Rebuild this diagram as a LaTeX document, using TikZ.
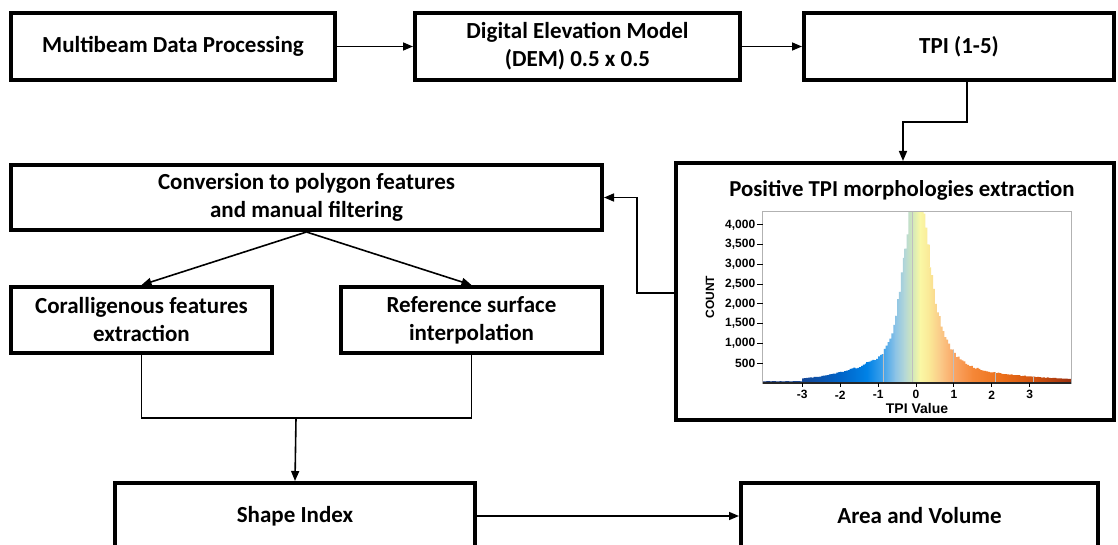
\documentclass[tikz,border=0pt]{standalone}
\usepackage{fontspec}
\setmainfont{Carlito}
\newfontfamily\axfont{Liberation Sans}
\usetikzlibrary{arrows.meta,calc}
\definecolor{cA}{RGB}{25,55,120}
\definecolor{cB}{RGB}{20,70,150}
\definecolor{cC}{RGB}{0,100,200}
\definecolor{cD}{RGB}{0,130,230}
\definecolor{cE}{RGB}{60,160,235}
\definecolor{cF}{RGB}{140,195,230}
\definecolor{cG}{RGB}{180,215,215}
\definecolor{cH}{RGB}{210,232,185}
\definecolor{cI}{RGB}{250,248,165}
\definecolor{cJ}{RGB}{250,232,150}
\definecolor{cK}{RGB}{250,200,135}
\definecolor{cL}{RGB}{250,165,100}
\definecolor{cM}{RGB}{245,135,55}
\definecolor{cN}{RGB}{235,110,25}
\definecolor{cO}{RGB}{205,80,15}
\definecolor{cP}{RGB}{150,45,15}
\begin{document}
\begin{tikzpicture}[x=0.5pt,y=-0.5pt,
  declare function={
    hl(\hd)=3480*exp(-min(\hd*\hd/0.19,9))+1520*exp(-min(\hd/1.16,9));
    hr(\hd)=5320*exp(-min(\hd/0.33,9))+620*exp(-min(\hd/2.2,9));
    hh(\hv)=(\hv<-3.0)?45:((\hv<0.0)?hl(abs(0.0-\hv)):((\hv<0.12)?5000:hr(abs(\hv-0.12))));
  },
  box/.style={draw, line width=2pt, rectangle, inner sep=0pt, align=center,
    font=\fontsize{11.5}{14}\selectfont\bfseries},
  arr/.style={line width=0.8pt, -{Triangle[length=5pt,width=4pt]}},
  ln/.style={line width=0.8pt},
  tick/.style={font=\axfont\fontsize{6}{7}\selectfont\bfseries, inner sep=0.6pt}
]
\useasboundingbox (0,0) rectangle (1118,545);
\fill[white] (0,0) rectangle (1118,545);

% boxes
\node[box, minimum width=162pt, minimum height=33.5pt] (mb) at (173,46.5) {Multibeam Data Processing};
\node[box, minimum width=162.5pt, minimum height=33.5pt] (dem) at (577.5,46.5) {Digital Elevation Model\\(DEM) 0.5 x 0.5};
\node[box, minimum width=155pt, minimum height=33.5pt] (tpi) at (959,46.5) {TPI (1-5)};
\node[box, minimum width=295.5pt, minimum height=32.5pt] (conv) at (306.5,197.5) {Conversion to polygon features\\and manual filtering};
\node[box, minimum width=130.5pt, minimum height=33pt] (coral) at (141.5,320) {Coralligenous features\\extraction};
\node[box, minimum width=130.5pt, minimum height=33pt] (ref) at (471.5,320) {Reference surface\\interpolation};
\node[box, minimum width=219pt, minimum height=128.5pt] (hist) at (895,291.5) {};
\node[box, minimum width=180pt, minimum height=33pt] (shape) at (295,516) {Shape Index};
\node[box, minimum width=178.5pt, minimum height=33pt] (area) at (919.5,516) {Area and Volume};

\node[font=\fontsize{11.4}{14}\selectfont\bfseries, inner sep=0pt] (histtitle) at (902,190) {Positive TPI morphologies extraction};

% histogram
\pgfmathsetseed{12}
\begin{scope}[shift={(916,383)}, x=18.95pt, y=0.01976pt]
  \begin{scope}
    \clip (-4.05,0) \foreach \bi [evaluate=\bi as \bv using {-4.05+0.05*\bi},
        evaluate=\bi as \bh using {min(4330,hh(-4.025+0.05*\bi)*(0.94+0.10*rnd))}] in {0,...,162}
        { -- (\bv,\bh) -- ({\bv+0.05},\bh) } -- (4.1,0) -- cycle;
    \foreach \a/\ca/\b/\cb in {-4.1/cA/-3.0/cB, -3.0/cB/-2.0/cC, -2.0/cC/-1.3/cD, -1.3/cD/-0.9/cE,
        -0.9/cE/-0.55/cF, -0.55/cF/-0.3/cG, -0.3/cG/-0.1/cH, -0.1/cH/0.1/cI, 0.1/cI/0.35/cJ,
        0.35/cJ/0.65/cK, 0.65/cK/1.0/cL, 1.0/cL/1.5/cM, 1.5/cM/2.3/cN, 2.3/cN/3.2/cO, 3.2/cO/4.15/cP}
      \shade[left color=\ca, right color=\cb] (\a,-10) rectangle ({\b+0.01},4400);
    \foreach \g in {-0.87,-0.1,0.98,2.08,3.1}
      \draw[black!25, line width=0.25pt] (\g,0) -- (\g,4400);
  \end{scope}
  \draw[gray!60, line width=0.5pt] (-4.05,0) rectangle (4.1,4330);
  \draw[black!85, line width=1pt] (-4.05,0) -- (4.1,0);
  \foreach \t in {-3,...,3} {
    \draw[line width=0.5pt] (\t,0) -- (\t,-90);
    \node[tick] (xt\t) at (\t,-300) {\t};
  }
  \foreach \n/\l in {500/500,1000/{1,000},1500/{1,500},2000/{2,000},2500/{2,500},3000/{3,000},3500/{3,500},4000/{4,000}} {
    \draw[line width=0.5pt] (-4.05,\n) -- (-4.2,\n);
    \node[tick, anchor=east] (yt\n) at (-4.2,\n) {\l};
  }
\end{scope}
\node[font=\axfont\fontsize{7}{8}\selectfont\bfseries, inner sep=0pt] (xlabel) at (917,408) {TPI Value};
\node[font=\axfont\fontsize{6}{7}\selectfont\bfseries, inner sep=0pt, rotate=90] (ylabel) at (710,297) {COUNT};

% connectors
\draw[arr] (mb) -- (dem);
\draw[arr] (dem) -- (tpi);
\coordinate (t1) at (967,122);
\coordinate (t2) at (903,122);
\draw[arr] (t1 |- tpi.south) -- (t1) -- (t2) -- (t2 |- hist.north);
\coordinate (h1) at (637,293);
\draw[arr] (h1 -| hist.west) -- (h1) |- (conv.east);
\draw[arr] (conv.south) -- (coral.north);
\draw[arr] (conv.south) -- (ref.north);
\coordinate (j) at (296,418);
\draw[ln] (coral.south) |- (j) -| (ref.south);
\draw[arr] (j) -- (shape.north);
\draw[arr] (shape) -- (area);
\end{tikzpicture}
\end{document}
